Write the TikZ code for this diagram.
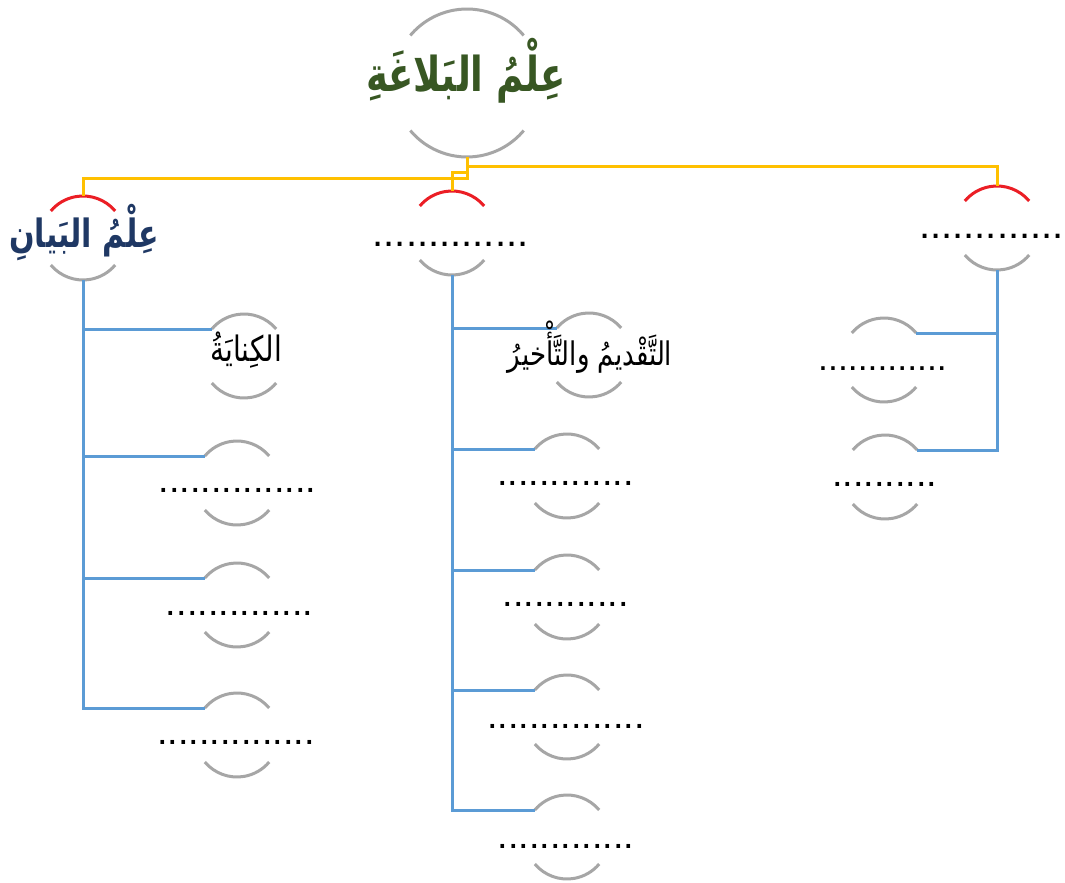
\documentclass[tikz,border=0pt]{standalone}
\usepackage{fontspec}
\setmainfont{Liberation Sans}
\newfontfamily\arabicfont[Script=Arabic]{DejaVu Sans}
\TeXXeTstate=1
\definecolor{arcgray}{RGB}{166,166,166}
\definecolor{arcred}{RGB}{235,30,37}
\definecolor{linkyellow}{RGB}{255,192,0}
\definecolor{linkblue}{RGB}{91,155,213}
\definecolor{titlegreen}{RGB}{56,87,35}
\definecolor{headnavy}{RGB}{31,56,100}
\tikzset{
  grayarc/.style={draw=arcgray,line width=3pt},
  redarc/.style={draw=arcred,line width=3pt},
  ylink/.style={draw=linkyellow,line width=3pt},
  blink/.style={draw=linkblue,line width=3pt},
  dotlabel/.style={anchor=base,inner sep=0pt,font=\fontsize{#1}{#1}\selectfont},
  arlabel/.style={anchor=base,inner sep=0pt},
}
\newcommand\mkcirc[5]{%
  \coordinate (#1) at (#2,#3);
  \draw[#5] ([shift={(40:#4pt)}]#1) arc[start angle=40,end angle=140,radius=#4pt];
  \draw[grayarc] ([shift={(220:#4pt)}]#1) arc[start angle=220,end angle=320,radius=#4pt];
  \coordinate (#1-tl) at ([shift={(140:#4pt)}]#1);
  \coordinate (#1-tr) at ([shift={(40:#4pt)}]#1);
  \coordinate (#1-top) at ([shift={(90:#4pt)}]#1);
  \coordinate (#1-bot) at ([shift={(270:#4pt)}]#1);
}
\begin{document}
\begin{tikzpicture}[x=1pt,y=-1pt]
\useasboundingbox[fill=white] (0,0) rectangle (1065,883);
% circles
\mkcirc{root}{467}{83}{74}{grayarc}
\mkcirc{hl}{83}{238}{42}{redarc}
\mkcirc{hm}{452}{233}{42}{redarc}
\mkcirc{hr}{997}{228}{42}{redarc}
\mkcirc{l1}{244}{356}{42}{grayarc}
\mkcirc{l2}{237}{483}{42}{grayarc}
\mkcirc{l3}{237}{605}{42}{grayarc}
\mkcirc{l4}{237}{735}{42}{grayarc}
\mkcirc{m1}{589}{355}{42}{grayarc}
\mkcirc{m2}{567}{476}{42}{grayarc}
\mkcirc{m3}{567}{597}{42}{grayarc}
\mkcirc{m4}{567}{717}{42}{grayarc}
\mkcirc{m5}{567}{837}{42}{grayarc}
\mkcirc{r1}{884}{360}{42}{grayarc}
\mkcirc{r2}{885}{477}{42}{grayarc}
% yellow connectors
\coordinate (jl) at (467,178);
\coordinate (jm) at (467,172);
\coordinate (jr) at (467,166);
\draw[ylink] (root-bot) -- (jl) -| (hl-top);
\draw[ylink] (jm) -| (hm-top);
\draw[ylink] (jr) -| (hr-top);
% blue connectors
\draw[blink] (hl-bot) |- (l1-tl);
\draw[blink] (hl-bot) |- (l2-tl);
\draw[blink] (hl-bot) |- (l3-tl);
\draw[blink] (hl-bot) |- (l4-tl);
\draw[blink] (hm-bot) |- (m1-tl);
\draw[blink] (hm-bot) |- (m2-tl);
\draw[blink] (hm-bot) |- (m3-tl);
\draw[blink] (hm-bot) |- (m4-tl);
\draw[blink] (hm-bot) |- (m5-tl);
\draw[blink] (hr-bot) |- (r1-tr);
\draw[blink] (hr-bot) |- (r2-tr);
% texts
\node[arlabel,text=titlegreen,font=\fontsize{37}{37}\selectfont\bfseries] (troot) at (466,91) {\scalebox{1}[1.3]{\arabicfont\beginR عِلْمُ البَلاغَةِ\endR}};
\node[arlabel,text=headnavy,font=\fontsize{30}{30}\selectfont\bfseries] (thl) at (84,247) {\scalebox{1}[1.3]{\arabicfont\beginR عِلْمُ البَيانِ\endR}};
\node[dotlabel=40] (thm) at (450.5,246.5) {..............};
\node[dotlabel=40] (thr) at (991.5,238) {.............};
\node[arlabel,font=\fontsize{28}{28}\selectfont] (tl1) at (246,361) {\scalebox{1}[1.25]{\arabicfont\beginR الكِنايَةُ\endR}};
\node[dotlabel=37.8] (tl2) at (237.5,492.5) {...............};
\node[dotlabel=37.8] (tl3) at (239.5,615) {..............};
\node[dotlabel=37.8] (tl4) at (236,744) {...............};
\node[arlabel,font=\fontsize{26}{26}\selectfont] (tm1) at (590,365) {\scalebox{1}[1.25]{\arabicfont\beginR التَّقْديمُ والتَّأْخيرُ\endR}};
\node[dotlabel=37.8] (tm2) at (565.5,485) {.............};
\node[dotlabel=37.8] (tm3) at (565.5,606) {............};
\node[dotlabel=37.8] (tm4) at (566,728) {...............};
\node[dotlabel=37.8] (tm5) at (566,848) {.............};
\node[dotlabel=35.6] (tr1) at (882.5,370.5) {.............};
\node[dotlabel=37.8] (tr2) at (884.5,486) {..........};
\end{tikzpicture}
\end{document}
